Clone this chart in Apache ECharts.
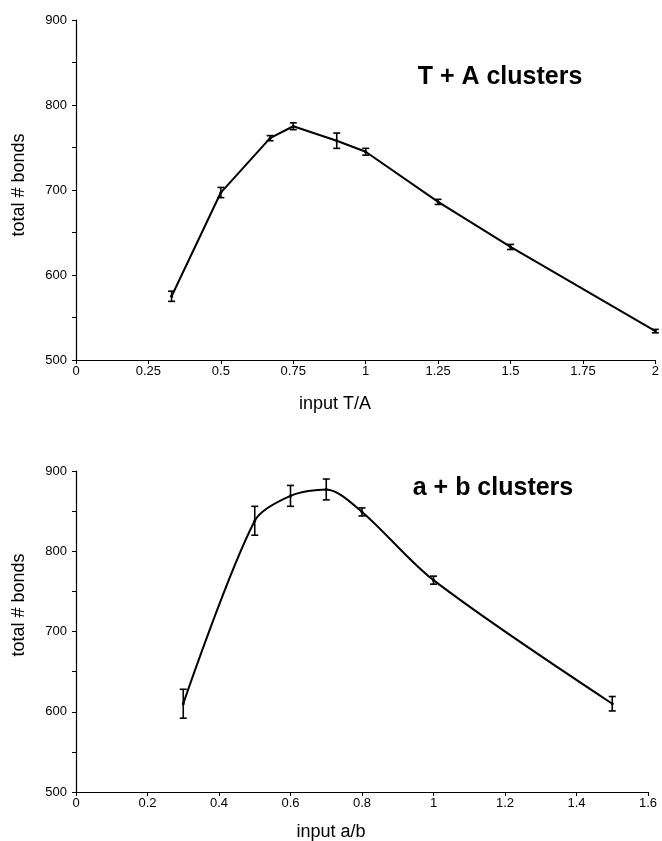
<!DOCTYPE html>
<html>
<head>
<meta charset="utf-8">
<script src="https://cdn.jsdelivr.net/npm/echarts@6/dist/echarts.min.js"></script>
<style>
  html, body { margin: 0; padding: 0; background: #fff; }
  #chart { width: 662px; height: 841px; }
</style>
</head>
<body>
<div id="chart"></div>
<script>
// T + A clusters (top panel)
const taX = [0.33, 0.5, 0.67, 0.75, 0.9, 1, 1.25, 1.5, 2];
const taY = [575, 697, 761, 775, 758, 745, 686, 633, 534];
const taErr = [6, 6, 3, 4, 9, 4, 3, 3, 2];

// a + b clusters (bottom panel)
const abX = [0.3, 0.5, 0.6, 0.7, 0.8, 1, 1.5];
const abY = [610, 838, 869, 877, 849, 764, 610];
const abErr = [18, 18, 13, 13, 5, 5, 9];

const font = "'Liberation Sans', Arial, sans-serif";

const chart = echarts.init(document.getElementById('chart'));

function pairs(xs, ys) {
  return xs.map((x, i) => [x, ys[i]]);
}
function errData(xs, ys, errs) {
  return xs.map((x, i) => [x, ys[i] - errs[i], ys[i] + errs[i]]);
}

// 误差棒
function renderErr(params, api) {
  const x = api.value(0);
  const lo = api.coord([x, api.value(1)]);
  const hi = api.coord([x, api.value(2)]);
  const w = 3.5;
  const style = { stroke: '#000', lineWidth: 1.6 };
  return {
    type: 'group',
    children: [
      { type: 'line', shape: { x1: lo[0], y1: lo[1], x2: hi[0], y2: hi[1] }, style },
      { type: 'line', shape: { x1: lo[0] - w, y1: lo[1], x2: lo[0] + w, y2: lo[1] }, style },
      { type: 'line', shape: { x1: hi[0] - w, y1: hi[1], x2: hi[0] + w, y2: hi[1] }, style },
    ],
  };
}

function xAxisOpt(gridIndex, max, interval) {
  return {
    type: 'value',
    gridIndex,
    min: 0,
    max,
    interval,
    axisLine: { show: true, lineStyle: { color: '#000', width: 1.2 } },
    axisTick: { show: true, length: 4, lineStyle: { color: '#000' } },
    axisLabel: { color: '#000', fontSize: 13, fontFamily: font, margin: 5, showMaxLabel: true },
    splitLine: { show: false },
  };
}
function yAxisOpt(gridIndex) {
  return {
    type: 'value',
    gridIndex,
    min: 500,
    max: 900,
    interval: 100,
    axisLine: { show: true, lineStyle: { color: '#000', width: 1.2 } },
    axisTick: { show: true, length: 4, lineStyle: { color: '#000' } },
    minorTick: { show: true, splitNumber: 2, length: 4, lineStyle: { color: '#000' } },
    axisLabel: { color: '#000', fontSize: 13, fontFamily: font, margin: 9 },
    splitLine: { show: false },
  };
}

const option = {
  backgroundColor: '#fff',
  animation: false,
  grid: [
    { left: 76, top: 20, width: 580, height: 340 },
    { left: 76, top: 471, width: 572, height: 321 },
  ],
  xAxis: [xAxisOpt(0, 2, 0.25), xAxisOpt(1, 1.6, 0.2)],
  yAxis: [yAxisOpt(0), yAxisOpt(1)],
  graphic: [
    { type: 'text', x: 500, y: 77, style: { text: 'T + A clusters', font: 'bold 25px ' + font, fill: '#000', textAlign: 'center', textVerticalAlign: 'middle' } },
    { type: 'text', x: 493, y: 488, style: { text: 'a + b clusters', font: 'bold 25px ' + font, fill: '#000', textAlign: 'center', textVerticalAlign: 'middle' } },
    { type: 'text', x: 335, y: 404, style: { text: 'input T/A', font: '18px ' + font, fill: '#000', textAlign: 'center', textVerticalAlign: 'middle' } },
    { type: 'text', x: 331, y: 832, style: { text: 'input a/b', font: '18px ' + font, fill: '#000', textAlign: 'center', textVerticalAlign: 'middle' } },
    { type: 'text', x: 19, y: 185, rotation: Math.PI / 2, style: { text: 'total # bonds', font: '18px ' + font, fill: '#000', textAlign: 'center', textVerticalAlign: 'middle' } },
    { type: 'text', x: 19, y: 605, rotation: Math.PI / 2, style: { text: 'total # bonds', font: '18px ' + font, fill: '#000', textAlign: 'center', textVerticalAlign: 'middle' } },
  ],
  series: [
    {
      type: 'line',
      xAxisIndex: 0,
      yAxisIndex: 0,
      data: pairs(taX, taY),
      symbol: 'circle',
      symbolSize: 3,
      itemStyle: { color: '#000' },
      lineStyle: { color: '#000', width: 2 },
    },
    {
      type: 'custom',
      xAxisIndex: 0,
      yAxisIndex: 0,
      data: errData(taX, taY, taErr),
      encode: { x: 0, y: [1, 2] },
      renderItem: renderErr,
      z: 3,
    },
    {
      type: 'line',
      xAxisIndex: 1,
      yAxisIndex: 1,
      data: pairs(abX, abY),
      smooth: 0.3,
      symbol: 'circle',
      symbolSize: 3,
      itemStyle: { color: '#000' },
      lineStyle: { color: '#000', width: 2 },
    },
    {
      type: 'custom',
      xAxisIndex: 1,
      yAxisIndex: 1,
      data: errData(abX, abY, abErr),
      encode: { x: 0, y: [1, 2] },
      renderItem: renderErr,
      z: 3,
    },
  ],
};

chart.setOption(option);
</script>
</body>
</html>
